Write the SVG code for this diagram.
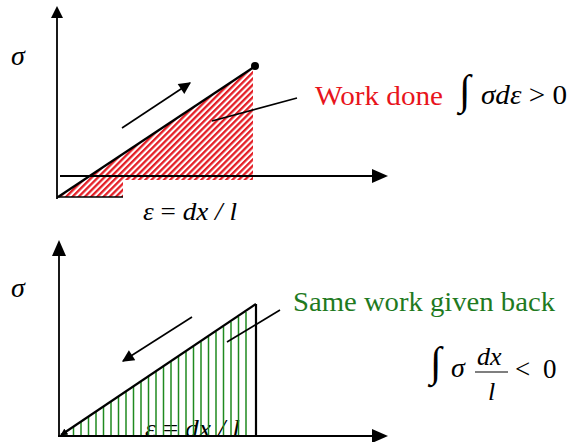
<svg xmlns="http://www.w3.org/2000/svg" width="571" height="442" viewBox="0 0 571 442">
<style>
.ax{stroke:#000;stroke-width:1.8;fill:none}
.ln{stroke:#000;stroke-width:1.6;fill:none}
text{font-family:'Liberation Serif','DejaVu Serif',serif}
.m{font-style:italic;fill:#000}
.up{font-style:normal}
</style>
<defs>
<pattern id="hatchR" patternUnits="userSpaceOnUse" width="4.4" height="4.4" patternTransform="rotate(45)">
<rect width="4.4" height="4.4" fill="#fff"/>
<rect width="2.3" height="4.4" fill="#e41e26"/>
</pattern>
<marker id="ah" viewBox="0 0 10 10" refX="9" refY="5" markerWidth="7" markerHeight="7" markerUnits="userSpaceOnUse" orient="auto">
<path d="M0,0 L10,5 L0,10 z" fill="#000"/>
</marker>
<marker id="ahBig" viewBox="0 0 10 10" refX="9" refY="5" markerWidth="14" markerHeight="12" markerUnits="userSpaceOnUse" orient="auto">
<path d="M0,0 L10,5 L0,10 z" fill="#000"/>
</marker>
</defs>

<g id="top-plot">
<polygon points="58,197 253,68 253,180 123,180 123,197" fill="url(#hatchR)"/>
<line class="ax" x1="57" y1="199" x2="57" y2="8"/>
<polygon points="51,18 57,6 63,18" fill="#000"/>
<line class="ax" x1="60" y1="176" x2="376" y2="176"/>
<polygon points="372,169 388,176 372,183" fill="#000"/>
<line class="ln" x1="57" y1="197" x2="123" y2="197"/>
<line stroke="#000" stroke-width="2.2" x1="58" y1="197" x2="254" y2="67"/>
<circle cx="255" cy="66" r="4" fill="#000"/>
<line class="ln" x1="122" y1="128" x2="190" y2="83" marker-end="url(#ahBig)"/>
<line class="ln" stroke-width="1.4" x1="212" y1="121" x2="297" y2="98"/>
<text class="m" x="11" y="65" font-size="28">σ</text>
<text class="m" x="143" y="220" font-size="26" textLength="94" lengthAdjust="spacingAndGlyphs">ε<tspan class="up"> = </tspan>dx / l</text>
</g>

<g id="work-done">
<text fill="#e8141c" x="315" y="105" font-size="27" textLength="128" lengthAdjust="spacingAndGlyphs">Work done</text>
<text x="459" y="104" font-size="42">∫</text>
<text class="m" x="481" y="104" font-size="27" textLength="86" lengthAdjust="spacingAndGlyphs">σdε<tspan class="up"> &gt; 0</tspan></text>
</g>

<g id="bottom-plot">
<text class="m" x="145" y="437" font-size="26" textLength="95" lengthAdjust="spacingAndGlyphs">ε<tspan class="up"> = </tspan>dx / l</text>
<g stroke="#1f8a1f" stroke-width="1.5">
<line x1="66" y1="435" x2="66" y2="432"/>
<line x1="73.5" y1="435" x2="73.5" y2="427"/>
<line x1="81" y1="435" x2="81" y2="422"/>
<line x1="88.5" y1="435" x2="88.5" y2="417"/>
<line x1="96" y1="435" x2="96" y2="412"/>
<line x1="103.5" y1="435" x2="103.5" y2="407"/>
<line x1="111" y1="435" x2="111" y2="402"/>
<line x1="118.5" y1="435" x2="118.5" y2="397"/>
<line x1="126" y1="435" x2="126" y2="392"/>
<line x1="133.5" y1="435" x2="133.5" y2="387"/>
<line x1="141" y1="435" x2="141" y2="382"/>
<line x1="148.5" y1="435" x2="148.5" y2="377"/>
<line x1="156" y1="435" x2="156" y2="372"/>
<line x1="163.5" y1="435" x2="163.5" y2="367"/>
<line x1="171" y1="435" x2="171" y2="362"/>
<line x1="178.5" y1="435" x2="178.5" y2="357"/>
<line x1="186" y1="435" x2="186" y2="352"/>
<line x1="193.5" y1="435" x2="193.5" y2="347"/>
<line x1="201" y1="435" x2="201" y2="342"/>
<line x1="208.5" y1="435" x2="208.5" y2="337"/>
<line x1="216" y1="435" x2="216" y2="332"/>
<line x1="223.5" y1="435" x2="223.5" y2="327"/>
<line x1="231" y1="435" x2="231" y2="322"/>
<line x1="238.5" y1="435" x2="238.5" y2="317"/>
<line x1="246" y1="435" x2="246" y2="312"/>
</g>
<line class="ax" x1="59" y1="437" x2="59" y2="250"/>
<polygon points="52,256 59,240 66,256" fill="#000"/>
<line class="ax" x1="58" y1="436" x2="376" y2="436"/>
<polygon points="372,429 388,436 372,443" fill="#000"/>
<line stroke="#000" stroke-width="2.2" x1="256" y1="304" x2="256" y2="436"/>
<line stroke="#000" stroke-width="2.2" x1="256" y1="304" x2="61" y2="435" marker-end="url(#ah)"/>
<line class="ln" x1="192" y1="317" x2="123" y2="361" marker-end="url(#ahBig)"/>
<line class="ln" stroke-width="1.4" x1="227" y1="342" x2="280" y2="310"/>
<text class="m" x="11" y="297" font-size="28">σ</text>
</g>

<g id="given-back">
<text fill="#1f7a1f" x="293" y="311" font-size="27" textLength="262" lengthAdjust="spacingAndGlyphs">Same work given back</text>
<text x="430" y="376" font-size="42">∫</text>
<text class="m" x="451" y="377" font-size="28">σ</text>
<text class="m" x="477" y="365" font-size="26">dx</text>
<line stroke="#000" stroke-width="1.2" x1="475" y1="372" x2="508" y2="372"/>
<text class="m" x="488" y="400" font-size="26">l</text>
<text x="515" y="378" font-size="27" letter-spacing="3">&lt; 0</text>
</g>
</svg>
